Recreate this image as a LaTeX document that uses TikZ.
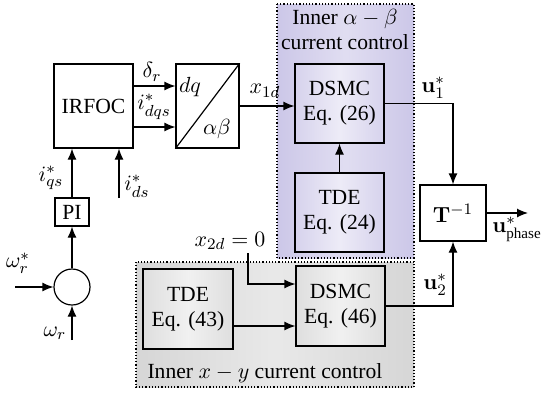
\documentclass[tikz,border=0pt]{standalone}
\usepackage{amsmath}
\usepackage{amssymb}
\usepackage[no-math]{fontspec}
\setmainfont{Liberation Serif}
\usetikzlibrary{arrows.meta,calc}
\definecolor{lavender}{RGB}{204,199,232}
\definecolor{shadegray}{RGB}{214,214,214}

\begin{document}
\begin{tikzpicture}[x=0.5pt, y=-0.5pt, font=\fontsize{10.8}{12.5}\selectfont,
    block/.style={draw, line width=0.6pt, align=center, inner sep=0pt},
    purplefill/.style={left color=lavender!80!white, right color=lavender!80!white, middle color=lavender!35!white},
    grayfill/.style={left color=shadegray!80!white, right color=shadegray!80!white, middle color=shadegray!35!white},
    sig/.style={line width=0.6pt, -{Latex[length=5.5pt,width=4.5pt]}},
    zone/.style={draw, densely dotted, line width=0.6pt}]
    \useasboundingbox (0,0) rectangle (544,396);
    \draw[zone, left color=lavender, right color=lavender, middle color=lavender!60!white] (277,4) rectangle (414,258);
    \draw[zone, left color=shadegray, right color=shadegray, middle color=shadegray!55!white] (136,262) rectangle (414,387);
    \node[align=center] (ablabel) at (345,30) {Inner\ $\alpha-\beta$\\current control};
    \node (xylabel) at (265,373) {Inner\ $x-y$ current control};

    \node[block, minimum width=39.5pt, minimum height=42pt] (irfoc) at (93.5,106) {IRFOC};
    \node[block, minimum width=31.5pt, minimum height=42pt] (dqab) at (207.5,106) {};
    \draw[line width=0.6pt] (dqab.south west) -- (dqab.north east);
    \node (dqlbl) at (190,87) {$dq$};
    \node (ablbl) at (217,129) {$\alpha\beta$};
    \node[block, purplefill, minimum width=44.5pt, minimum height=39.5pt] (dsmcA) at (339.5,103.5) {DSMC\\Eq. (26)};
    \node[block, purplefill, minimum width=44.5pt, minimum height=39.5pt] (tdeA) at (339.5,212.5) {TDE\\Eq. (24)};
    \node[block, fill=white, minimum width=33pt, minimum height=28pt] (tinv) at (453,213) {$\mathbf{T}^{-1}$};
    \node[block, minimum width=17pt, minimum height=14pt] (pi) at (72,212) {PI};
    \node[draw, circle, line width=0.6pt, minimum size=18pt, inner sep=0pt] (sum) at (72,287) {};
    \node[block, grayfill, minimum width=45pt, minimum height=40pt] (tdeB) at (188,309) {TDE\\Eq. (43)};
    \node[block, grayfill, minimum width=44.5pt, minimum height=40pt] (dsmcB) at (340.5,306) {DSMC\\Eq. (46)};

    \coordinate (wstar) at (15,287);
    \coordinate (wr) at (72,340);
    \coordinate (idsin) at (119,198);
    \coordinate (x2din) at (248,253);
    \coordinate (uout) at (528,213);

    \draw[sig] ($(irfoc.east)+(0,-20)$) -- ($(dqab.west)+(0,-20)$);
    \draw[sig] ($(irfoc.east)+(0,21)$) -- ($(dqab.west)+(0,21)$);
    \draw[sig] (dqab.east) -- (dqab.east -| dsmcA.west);
    \draw[sig] (tdeA.north) -- (dsmcA.south);
    \draw[sig] (dsmcA.east) -| (tinv.north);
    \draw[sig] (dsmcB.east) -| (tinv.south);
    \draw[sig] (tinv.east) -- (uout);
    \draw[sig] (x2din) |- ($(dsmcB.west)+(0,-22)$);
    \draw[sig] ($(tdeB.east)+(0,17)$) -- ($(dsmcB.west)+(0,20)$);
    \draw[sig] (wstar) -- (sum.west);
    \draw[sig] (wr) -- (sum.south);
    \draw[sig] (sum.north) -- (pi.south);
    \draw[sig] (pi.north) -- (pi.north |- irfoc.south);
    \draw[sig] (idsin) -- (idsin |- irfoc.south);

    \node (deltalbl) at (152,72) {$\delta_r$};
    \node (idqslbl) at (154,107) {$i^*_{dqs}$};
    \node (x1dlbl) at (265,91) {$x_{1d}$};
    \node (u1lbl) at (433,88) {$\mathbf{u}^*_1$};
    \node (u2lbl) at (435,285) {$\mathbf{u}^*_2$};
    \node (uphlbl) at (517,229) {$\mathbf{u}^*_{\text{phase}}$};
    \node (iqslbl) at (51,178) {$i^*_{qs}$};
    \node (idslbl) at (137,186) {$i^*_{ds}$};
    \node (wstarlbl) at (18,263) {$\omega^*_r$};
    \node (wrlbl) at (55,333) {$\omega_r$};
    \node (x2dlbl) at (230,241) {$x_{2d}=0$};
\end{tikzpicture}
\end{document}
